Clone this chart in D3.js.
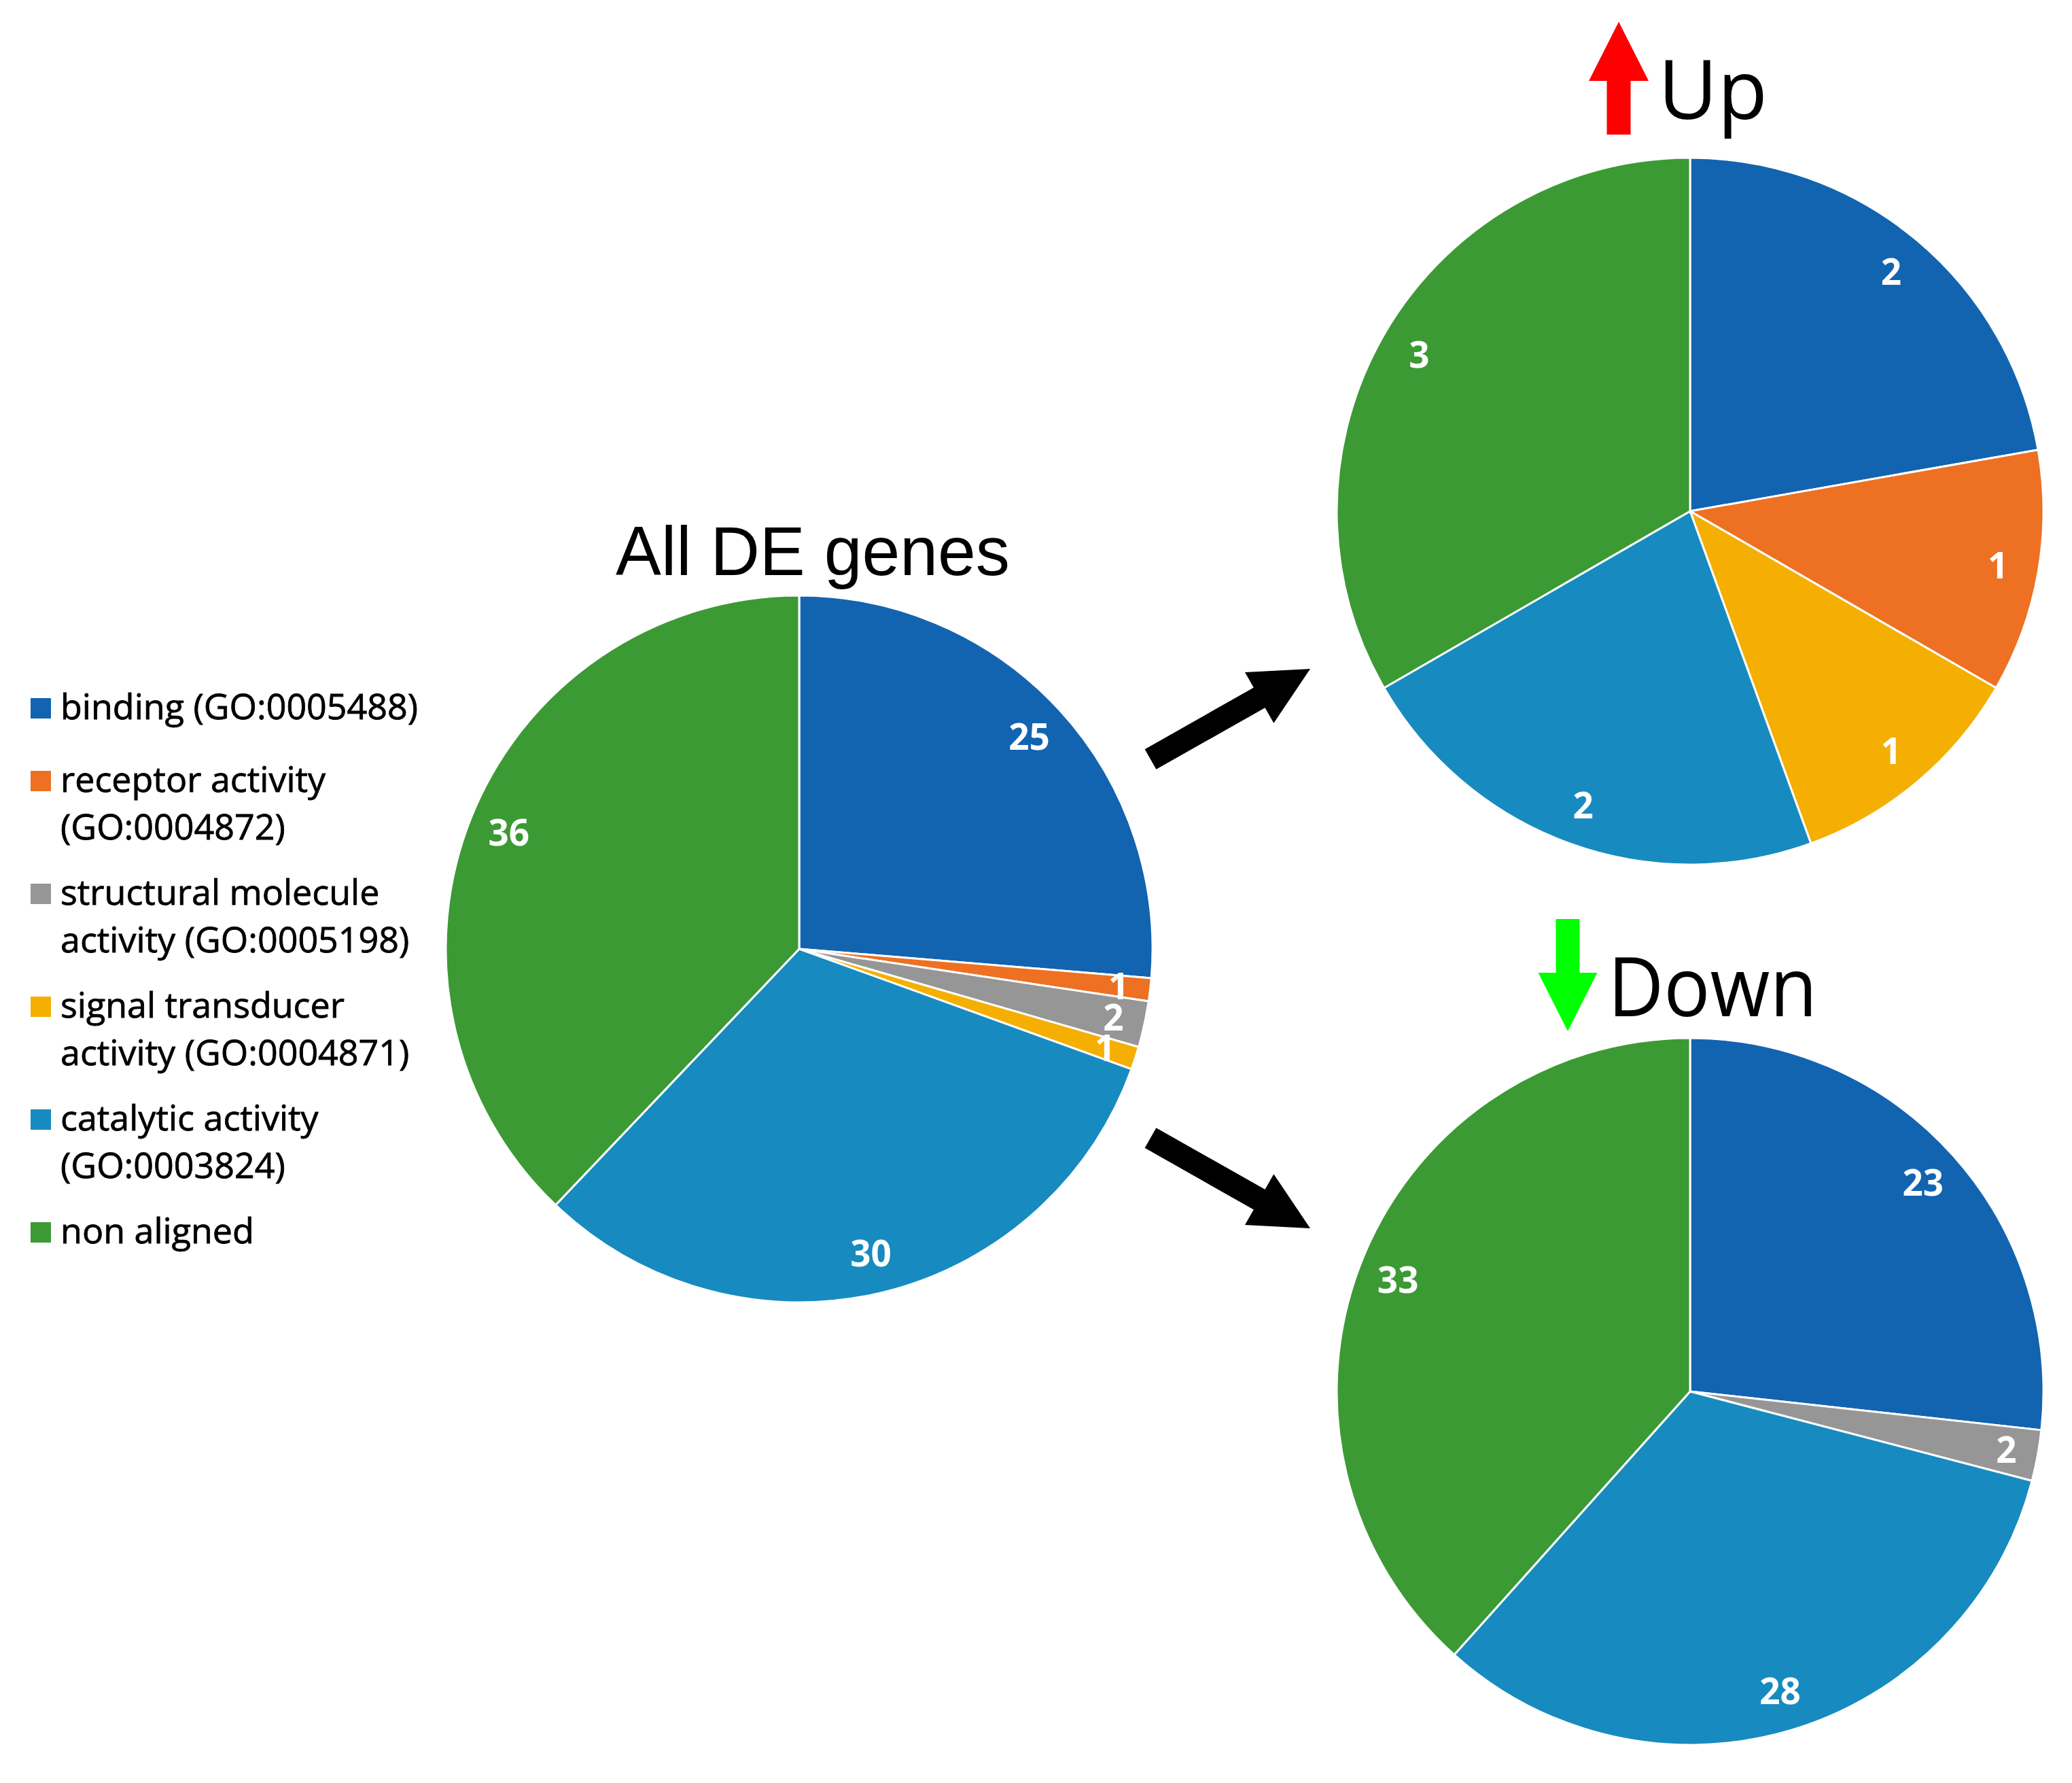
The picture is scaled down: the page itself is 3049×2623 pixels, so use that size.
<!DOCTYPE html>
<html>
<head>
<meta charset="utf-8">
<script src="https://cdn.jsdelivr.net/npm/d3@7"></script>
<style>
  body { margin: 0; background: #fff; }
</style>
</head>
<body>
<script>
// GO categories (legend text, split as wrapped in the original legend)
const legendLines = [
    ["binding (GO:0005488)"],
    ["receptor activity", "(GO:0004872)"],
    ["structural molecule", "activity (GO:0005198)"],
    ["signal transducer", "activity (GO:0004871)"],
    ["catalytic activity", "(GO:0003824)"],
    ["non aligned"]
];
const categoryColors = ["#1264b0", "#ee7022", "#969696", "#f5af02", "#178bbf", "#3c9a34"];

// gene counts per category, same order as the legend
const allValues = [25, 1, 2, 1, 30, 36];
const upValues = [2, 1, 0, 1, 2, 3];
const downValues = [23, 0, 2, 0, 28, 33];

const titles = { all: "All DE genes", up: "Up", down: "Down" };

const width = 3049, height = 2623;
const radius = 520;

const svg = d3.select("body").append("svg")
    .attr("width", width)
    .attr("height", height)
    .attr("viewBox", `0 0 ${width} ${height}`);

function drawPie(values, cx, cy) {
    const pie = d3.pie().sort(null).value(d => d.value);
    const slices = pie(values.map((v, i) => ({ value: v, i })))
        .filter(d => d.data.value > 0);
    const arc = d3.arc().innerRadius(0).outerRadius(radius);

    const g = svg.append("g").attr("transform", `translate(${cx},${cy})`);

    g.selectAll("path")
        .data(slices)
        .join("path")
        .attr("d", arc)
        .attr("fill", d => categoryColors[d.data.i])
        .attr("stroke", "#fff")
        .attr("stroke-width", 3)
        .attr("stroke-linejoin", "round");

    // labels sit near the outer edge, thin slices a bit further out
    g.selectAll("text")
        .data(slices)
        .join("text")
        .attr("transform", d => {
            const k = (d.endAngle - d.startAngle) < 10 * Math.PI / 180 ? 0.91 : 0.885;
            const la = d3.arc().innerRadius(radius * k).outerRadius(radius * k);
            return `translate(${la.centroid(d)})`;
        })
        .attr("dy", "0.36em")
        .attr("text-anchor", "middle")
        .style("font-family", "'Open Sans', 'Noto Sans', sans-serif")
        .style("font-weight", "bold")
        .style("font-size", "53px")
        .style("fill", "#fff")
        .text(d => d.data.value);
}

function drawArrow(tail, tip, shaftW, headW, headLen, color) {
    const dx = tip[0] - tail[0], dy = tip[1] - tail[1];
    const len = Math.hypot(dx, dy);
    const ux = dx / len, uy = dy / len;
    const nx = -uy, ny = ux;
    const bx = tip[0] - ux * headLen, by = tip[1] - uy * headLen;
    const pts = [
        [tail[0] + nx * shaftW / 2, tail[1] + ny * shaftW / 2],
        [bx + nx * shaftW / 2, by + ny * shaftW / 2],
        [bx + nx * headW / 2, by + ny * headW / 2],
        tip,
        [bx - nx * headW / 2, by - ny * headW / 2],
        [bx - nx * shaftW / 2, by - ny * shaftW / 2],
        [tail[0] - nx * shaftW / 2, tail[1] - ny * shaftW / 2]
    ];
    svg.append("polygon")
        .attr("points", pts.map(p => p.join(",")).join(" "))
        .attr("fill", color);
}

// pies
drawPie(allValues, 1176, 1396);
drawPie(upValues, 2487, 752);
drawPie(downValues, 2487, 2047);

// main title
svg.append("text")
    .attr("x", 1196)
    .attr("y", 846)
    .attr("text-anchor", "middle")
    .attr("textLength", 580)
    .attr("lengthAdjust", "spacingAndGlyphs")
    .style("font-family", "'Liberation Sans', Arial, sans-serif")
    .style("font-size", "102px")
    .style("fill", "#000")
    .text(titles.all);

// Up / Down headers with coloured arrows
drawArrow([2382, 198], [2382, 32], 35, 88, 87, "#ff0000");
svg.append("text")
    .attr("x", 2440)
    .attr("y", 175)
    .style("font-family", "'Open Sans', 'Noto Sans', sans-serif")
    .style("font-size", "120px")
    .style("fill", "#000")
    .text(titles.up);

drawArrow([2307, 1352], [2307, 1517], 35, 87, 86, "#00ff00");
svg.append("text")
    .attr("x", 2366)
    .attr("y", 1495)
    .attr("textLength", 308)
    .attr("lengthAdjust", "spacingAndGlyphs")
    .style("font-family", "'Open Sans', 'Noto Sans', sans-serif")
    .style("font-size", "120px")
    .style("fill", "#000")
    .text(titles.down);

// black arrows from the main pie to the sub pies
drawArrow([1693, 1117], [1928, 984], 34, 86, 86, "#000");
drawArrow([1693, 1674], [1928, 1807], 34, 86, 86, "#000");

// legend
const legend = svg.append("g");
let y = 1058;
legendLines.forEach((lines, i) => {
    const item = legend.append("g");
    item.append("rect")
        .attr("x", 45)
        .attr("y", y - 31)
        .attr("width", 30)
        .attr("height", 30)
        .attr("fill", categoryColors[i]);
    lines.forEach((line, j) => {
        item.append("text")
            .attr("x", 89)
            .attr("y", y + j * 70)
            .style("font-family", "'Open Sans', 'Noto Sans', sans-serif")
            .style("font-size", "52px")
            .style("fill", "#000")
            .style("stroke", "#000")
            .style("stroke-width", 0.8)
            .text(line);
    });
    y += 107 + (lines.length - 1) * 59;
});
</script>
</body>
</html>
